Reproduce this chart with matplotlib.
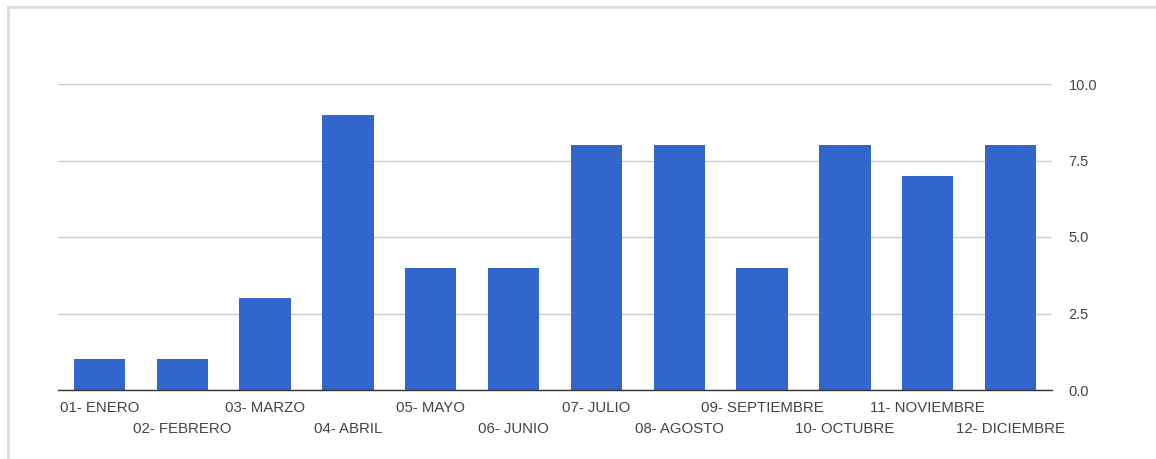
import matplotlib.pyplot as plt
from matplotlib.lines import Line2D

meses = ["01- ENERO", "02- FEBRERO", "03- MARZO", "04- ABRIL", "05- MAYO", "06- JUNIO",
         "07- JULIO", "08- AGOSTO", "09- SEPTIEMBRE", "10- OCTUBRE", "11- NOVIEMBRE", "12- DICIEMBRE"]
valores = [1, 1, 3, 9, 4, 4, 8, 8, 4, 8, 7, 8]
y_ticks = [0.0, 2.5, 5.0, 7.5, 10.0]

plt.rcParams['font.family'] = ['Liberation Sans', 'DejaVu Sans']

fig = plt.figure(figsize=(11.56, 4.59), dpi=100)
ax = fig.add_axes([58 / 1156, 1 - 390 / 459, (1052 - 58) / 1156, (390 - 84) / 459])

x = list(range(len(meses)))
ax.bar(x, valores, width=0.62, color="#3366cc", zorder=2)

ax.set_xlim(-0.5, len(meses) - 0.5)
ax.set_ylim(0, 10)
ax.set_yticks(y_ticks)
ax.set_yticklabels([f"{v:.1f}" for v in y_ticks])
ax.yaxis.tick_right()
ax.tick_params(axis="y", length=0, pad=12, labelsize=10.5, labelcolor="#444444")
ax.grid(axis="y", color="#cccccc", linewidth=1, zorder=0)

ax.set_xticks([])
for i, m in enumerate(meses):
    off = -18 if i % 2 == 0 else -39
    ax.annotate(m, (i, 0), xycoords="data", xytext=(0, off), textcoords="offset pixels",
                ha="center", va="center", fontsize=10.8, color="#444444")

for s in ["top", "left", "right"]:
    ax.spines[s].set_visible(False)
ax.spines["bottom"].set_color("#333333")
ax.spines["bottom"].set_linewidth(1)
ax.spines["bottom"].set_zorder(3)

# marco gris del contenedor
fig.add_artist(Line2D([8 / 1156, 1], [1 - 7 / 459, 1 - 7 / 459], color="#dddddd", linewidth=2,
                      transform=fig.transFigure))
fig.add_artist(Line2D([8 / 1156, 8 / 1156], [0, 1 - 7 / 459], color="#dddddd", linewidth=2,
                      transform=fig.transFigure))

fig.savefig("out.png", dpi=100)
